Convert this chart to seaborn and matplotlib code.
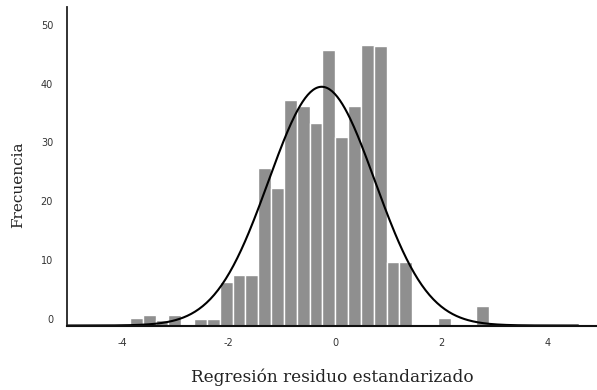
import numpy as np
import pandas as pd
import matplotlib
matplotlib.use("Agg")
import matplotlib.pyplot as plt
import seaborn as sns

# ---- data ----
bin_start = -3.861
bin_width = 0.2416
counts = [1.22, 1.79, 0.94, 1.79, 0.0, 1.10, 1.10, 7.40, 8.64, 8.64,
          26.8, 23.4, 38.35, 37.3, 34.4, 46.85, 32.1, 37.3, 47.7, 47.5,
          10.85, 10.85, 0.0, 0.0, 1.33, 0.0, 0.0, 3.33]
# fitted normal curve parameters
curve_mean = -0.25
curve_sd = 1.0
curve_peak = 40.6
curve_range = (-5.05, 4.58)
y_ticks = [0, 10, 20, 30, 40, 50]
x_ticks = [-4, -2, 0, 2, 4]
y_offset = 1.14  # axis baseline sits slightly below the "0" tick

edges = [bin_start + bin_width * i for i in range(len(counts) + 1)]
centers = [(edges[i] + edges[i + 1]) / 2 for i in range(len(counts))]
hist_df = pd.DataFrame({"x": centers, "w": counts})

xs = np.linspace(curve_range[0], curve_range[1], 400)
ys = curve_peak * np.exp(-0.5 * ((xs - curve_mean) / curve_sd) ** 2)
curve_df = pd.DataFrame({"x": xs, "y": ys})

sns.set_style("white")
plt.rcParams["axes.unicode_minus"] = False

fig = plt.figure(figsize=(5.97, 3.90), dpi=100)
ax = fig.add_axes([67 / 597, 1 - 325.5 / 390, 1 - 67 / 597, (325.5 - 7) / 390])

sns.histplot(data=hist_df, x="x", weights="w", bins=edges, ax=ax,
             color="#8f8f8f", edgecolor="white", linewidth=1.0, alpha=1.0)
sns.lineplot(data=curve_df, x="x", y="y", ax=ax, color="black", linewidth=1.5)

ax.set_xlim(-5.047, 4.934)
ax.set_ylim(0, (325.5 - 7) / 5.88)

ax.set_xticks(x_ticks)
ax.set_xticklabels([str(t) for t in x_ticks])
ax.set_yticks([t + y_offset for t in y_ticks])
ax.set_yticklabels([str(t) for t in y_ticks])

ax.tick_params(axis="x", length=0, pad=9, labelsize=7, labelcolor="#333333")
ax.tick_params(axis="y", direction="in", length=4, width=1, color="#333333",
               pad=10, labelsize=7, labelcolor="#333333")
ax.yaxis.get_major_ticks()[0].tick1line.set_visible(False)

for s in ["top", "right"]:
    ax.spines[s].set_visible(False)
ax.spines["left"].set_color("#222222")
ax.spines["left"].set_linewidth(1.3)
ax.spines["bottom"].set_color("#111111")
ax.spines["bottom"].set_linewidth(1.5)

ax.set_xlabel("Regresión residuo estandarizado", family="DejaVu Serif",
              fontsize=12.2, color="#222222", labelpad=15)
ax.set_ylabel("Frecuencia", family="DejaVu Serif", fontsize=11,
              color="#222222")
ax.yaxis.set_label_coords(-0.079, 0.441)

fig.savefig("out.png", dpi=100)
